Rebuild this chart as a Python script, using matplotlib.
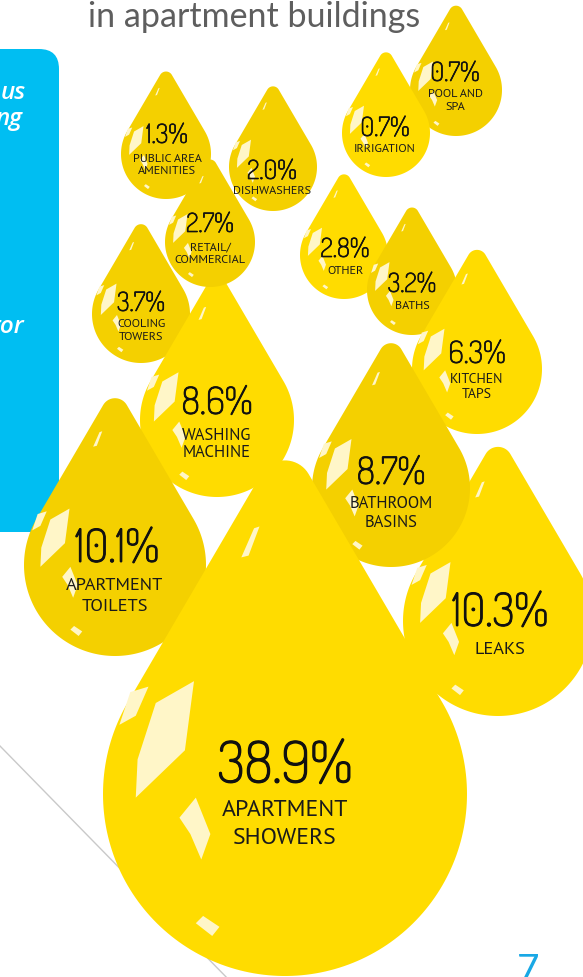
import numpy as np
import matplotlib.pyplot as plt
import matplotlib.patheffects as pe
from matplotlib.patches import Polygon, FancyBboxPatch

# data: share of water use in apartment buildings
categories = ['POOL AND\nSPA', 'IRRIGATION', 'PUBLIC AREA\nAMENITIES', 'DISHWASHERS',
              'OTHER', 'BATHS', 'COOLING\nTOWERS', 'WASHING\nMACHINE', 'RETAIL/\nCOMMERCIAL',
              'KITCHEN\nTAPS', 'LEAKS', 'BATHROOM\nBASINS', 'APARTMENT\nTOILETS',
              'APARTMENT\nSHOWERS']
shares = [0.7, 0.7, 1.3, 2.0, 2.8, 3.2, 3.7, 8.6, 2.7, 6.3, 10.3, 8.7, 10.1, 38.9]

title = 'in apartment buildings'
side_words = ['us', 'ng', 'tor']
page_no = '7'

# layout (pixels, y down): drop centre x, circle centre y, radius, shade
drops = [
    (456, 91, 46, 'd'), (386, 134, 44, 'b'), (166, 155, 45, 'd'), (273, 168, 44, 'd'),
    (344, 256, 44, 'b'), (412, 291, 45, 'd'), (141, 315, 49, 'd'), (217, 421, 77, 'b'),
    (210, 243, 45, 'd'), (477, 370, 65, 'b'), (498, 622, 95, 'b'), (391, 489, 79, 'd'),
    (115, 566, 91, 'd'), (285, 795, 182, 'b'),
]
# text: x, number baseline, label baselines, number size, label size
texts = [
    (455, 82, [97, 110], 19, 8.8), (385, 137, [152], 19, 8.8),
    (167, 144, [162, 174], 19, 8.8), (272, 180, [194], 19, 8.8),
    (345, 258, [274], 19, 8.8), (412, 293, [309], 19, 8.8),
    (141, 312, [327, 340], 19, 8.8), (217, 415, [440, 457], 27, 12),
    (210, 233, [250, 263], 19, 8.8), (477, 364, [383, 398], 22, 10),
    (500, 627, [654.5], 33, 13.2), (391, 485, [508, 527], 27, 12),
    (117, 563, [590, 611], 33, 13.2), (285, 783.5, [816.5, 843.5], 41, 17.2),
]

shade = {'d': '#F4D000', 'b': '#FFDC00'}
glint = '#FFF6C8'
num_font = ['Dosis', 'PT Sans Narrow', 'DejaVu Sans']
lab_font = ['PT Sans', 'DejaVu Sans']

highlights = [
    [(-0.71, -0.50), (-0.50, -0.62), (-0.55, -0.24), (-0.82, 0.02), (-0.81, -0.19)],
    [(-0.91, -0.38), (-0.82, -0.43), (-0.75, -0.59), (-0.85, -0.56)],
    [(-0.58, 0.13), (-0.49, 0.02), (-0.41, 0.22), (-0.46, 0.36), (-0.52, 0.22)],
    [(-0.49, 0.71), (-0.45, 0.67), (-0.36, 0.73), (-0.40, 0.78)],
    [(-0.24, -1.30), (-0.20, -1.31), (-0.14, -1.47), (-0.17, -1.46)],
]


def drop_outline(cx, cy, r, k=1.98, tip=0.15):
    h = k * r
    phi = np.arccos(1 / k)
    rt = tip * r
    tc = h - rt * k
    a1 = np.linspace(np.pi / 2 + phi, 2.5 * np.pi - phi, 160)
    a2 = np.linspace(np.pi / 2 - phi, np.pi / 2 + phi, 20)
    xs = np.concatenate([r * np.cos(a1), rt * np.cos(a2)])
    ys = np.concatenate([r * np.sin(a1), tc + rt * np.sin(a2)])
    return np.column_stack([cx + xs, cy - ys])


fig = plt.figure(figsize=(5.83, 9.78), dpi=100)
ax = fig.add_axes([0, 0, 1, 1])
ax.set_xlim(0, 583)
ax.set_ylim(978, 0)
ax.axis('off')

# blue side panel and grey guide line
ax.add_patch(FancyBboxPatch((-40, 50), 99, 483, boxstyle='round,pad=0,rounding_size=20',
                            fc='#00BEF2', ec='none', zorder=0.5))
for w, xr, yb in zip(side_words, [26, 22, 25], [99, 125, 333]):
    ax.text(xr, yb, w, color='white', fontsize=17.5, style='italic', fontweight='semibold',
            family=['Open Sans', 'DejaVu Sans'], ha='right', va='baseline', zorder=0.6)
ax.plot([0, 232], [747, 984], color='#C9C9C9', lw=1.0, zorder=0.4)

ax.text(88, 27, title, color='#5E5E5E', fontsize=24.5, family=['Lato', 'DejaVu Sans'],
        ha='left', va='baseline')
ax.text(528, 982, page_no, color='#19A8E5', fontsize=28, family=['Lato', 'DejaVu Sans'],
        ha='center', va='baseline')

for i, ((cx, cy, r, s), (tx, nb, lbs, ns, ls)) in enumerate(zip(drops, texts)):
    z = 1 + i
    ax.add_patch(Polygon(drop_outline(cx, cy, r), closed=True, fc=shade[s], ec='none', zorder=z))
    for hl in highlights:
        pts = [(cx + u * r, cy + v * r) for u, v in hl]
        ax.add_patch(Polygon(pts, closed=True, fc=glint, ec='none', zorder=z + 0.1))
    # Dosis ships light here, so thicken the digits with a stroke
    thick = [pe.withStroke(linewidth=max(0.5, ns * 0.022), foreground='#111111')]
    ax.text(tx, nb, f'{shares[i]:.1f}%', fontsize=ns, family=num_font,
            color='#111111', ha='center', va='baseline', zorder=z + 0.2, path_effects=thick)
    for line, yb in zip(categories[i].split('\n'), lbs):
        lx = 115 if categories[i].endswith('TOILETS') else tx
        ax.text(lx, yb, line, fontsize=ls, family=lab_font, color='#1A1A1A',
                ha='center', va='baseline', zorder=z + 0.2)

fig.savefig('out.png', dpi=100)
